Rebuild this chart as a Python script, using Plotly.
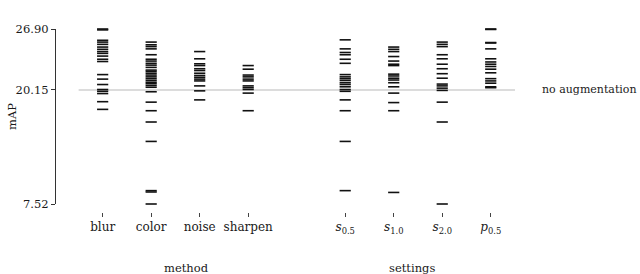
import plotly.graph_objects as go

# ---- data ----
method_cats = ["blur", "color", "noise", "sharpen"]
settings_cats = ["s0.5", "s1.0", "s2.0", "p0.5"]
tick_labels = ["blur", "color", "noise", "sharpen",
               "<i>s</i><sub>0.5</sub>", "<i>s</i><sub>1.0</sub>",
               "<i>s</i><sub>2.0</sub>", "<i>p</i><sub>0.5</sub>"]

blur = [26.90, 26.80, 25.65, 25.45, 25.2, 24.9, 24.65, 24.4, 24.2, 23.9, 23.55, 23.3,
        21.85, 21.35, 20.75, 20.2, 20.0, 19.75, 18.85, 18.0]
color = [25.45, 25.15, 24.95, 24.7, 24.05, 23.55, 23.35, 23.1, 22.9, 22.65, 22.35, 22.2,
         22.0, 21.8, 21.6, 21.4, 21.2, 21.0, 20.85, 20.65, 20.45, 19.95, 18.8, 17.85,
         16.6, 14.45, 9.0, 8.85, 7.52]
noise = [24.4, 23.6, 23.05, 22.85, 22.5, 22.3, 22.0, 21.75, 21.55, 21.35, 21.15,
         20.6, 20.05, 19.05]
sharpen = [22.85, 22.45, 21.8, 21.6, 21.35, 21.15, 20.6, 20.4, 20.2, 19.8, 17.85]
s05 = [25.7, 24.7, 24.3, 24.05, 23.55, 23.1, 21.85, 21.6, 21.4, 21.2, 20.95, 20.75,
       20.5, 20.2, 20.0, 19.05, 17.85, 14.45, 9.0]
s10 = [24.9, 24.65, 24.4, 23.85, 23.35, 23.0, 22.85, 21.9, 21.7, 21.45, 21.25, 20.95,
       20.5, 19.8, 18.75, 17.85, 8.8]
s20 = [25.45, 25.2, 24.95, 24.05, 23.6, 23.0, 22.5, 21.95, 21.45, 20.8, 20.6, 20.35,
       20.1, 18.8, 16.6, 7.52]
p05 = [26.9, 26.85, 25.4, 25.35, 24.7, 23.6, 23.25, 23.0, 22.75, 22.45, 22.05, 21.4,
       21.15, 20.9, 20.5, 20.4]

series = [blur, color, noise, sharpen, s05, s10, s20, p05]
baseline = 20.15
y_ticks = [7.52, 20.15, 26.90]

# ---- layout helpers ----
n_method = len(method_cats)
positions = list(range(n_method)) + [n_method + 1 + i for i in range(len(settings_cats))]

FONT = "DejaVu Serif"
TXT = "#1a1a1a"

fig = go.Figure()
for pos, vals in zip(positions, series):
    fig.add_trace(go.Scatter(
        x=[pos] * len(vals), y=vals, mode="markers",
        marker=dict(symbol="line-ew", size=8, line=dict(width=1.6, color="#111111")),
        cliponaxis=False, showlegend=False, hoverinfo="y"))

fig.add_shape(type="line", xref="x", yref="y", x0=-0.5, x1=positions[-1] + 0.5,
              y0=baseline, y1=baseline, line=dict(color="#dcdcdc", width=2), layer="below")

W, H = 640, 274
ml, mr = 55, 5
pw = W - ml - mr

fig.update_layout(
    template="none",
    width=W, height=H,
    margin=dict(l=ml, r=mr, t=0, b=0, pad=0),
    plot_bgcolor="white", paper_bgcolor="white",
    font=dict(family=FONT, size=11, color=TXT),
    xaxis=dict(
        range=[-0.5, positions[-1] + 0.5],
        domain=[(78.4 - ml) / pw, (515 - ml) / pw],
        anchor="free", position=1 - 212 / H,
        tickmode="array", tickvals=positions, ticktext=tick_labels,
        ticks="outside", ticklen=4, tickcolor="#444444", tickwidth=1,
        showline=False, showgrid=False, zeroline=False, automargin=False,
        tickfont=dict(family=FONT, size=12, color=TXT),
    ),
    yaxis=dict(
        range=[y_ticks[0], y_ticks[-1]],
        domain=[1 - 204 / H, 1 - 29 / H],
        anchor="free", position=0,
        tickmode="array", tickvals=y_ticks, ticktext=[f"{v:.2f}" for v in y_ticks],
        ticks="outside", ticklen=4, tickcolor="#333333", tickwidth=1,
        showline=True, linecolor="#333333", linewidth=1.3,
        showgrid=False, zeroline=False, automargin=False,
        tickfont=dict(family=FONT, size=11.5, color=TXT),
    ),
)

fig.add_annotation(text="no augmentation", xref="paper", yref="y",
                   x=(540 - ml) / pw, y=baseline, xanchor="left", yanchor="middle",
                   showarrow=False, font=dict(family=FONT, size=11, color=TXT))
fig.add_annotation(text="mAP", xref="paper", yref="paper",
                   x=(12 - ml) / pw, y=1 - 117 / H, textangle=-90,
                   xanchor="center", yanchor="middle",
                   showarrow=False, font=dict(family=FONT, size=11.5, color=TXT))
fig.add_annotation(text="method", xref="paper", yref="paper",
                   x=(186 - ml) / pw, y=1 - 268 / H,
                   xanchor="center", yanchor="middle",
                   showarrow=False, font=dict(family=FONT, size=11.5, color=TXT))
fig.add_annotation(text="settings", xref="paper", yref="paper",
                   x=(412 - ml) / pw, y=1 - 268 / H,
                   xanchor="center", yanchor="middle",
                   showarrow=False, font=dict(family=FONT, size=11.5, color=TXT))

fig.write_html("out.html", config={"displayModeBar": False},
               post_script="document.body.style.margin='0';document.body.style.overflow='hidden';")
